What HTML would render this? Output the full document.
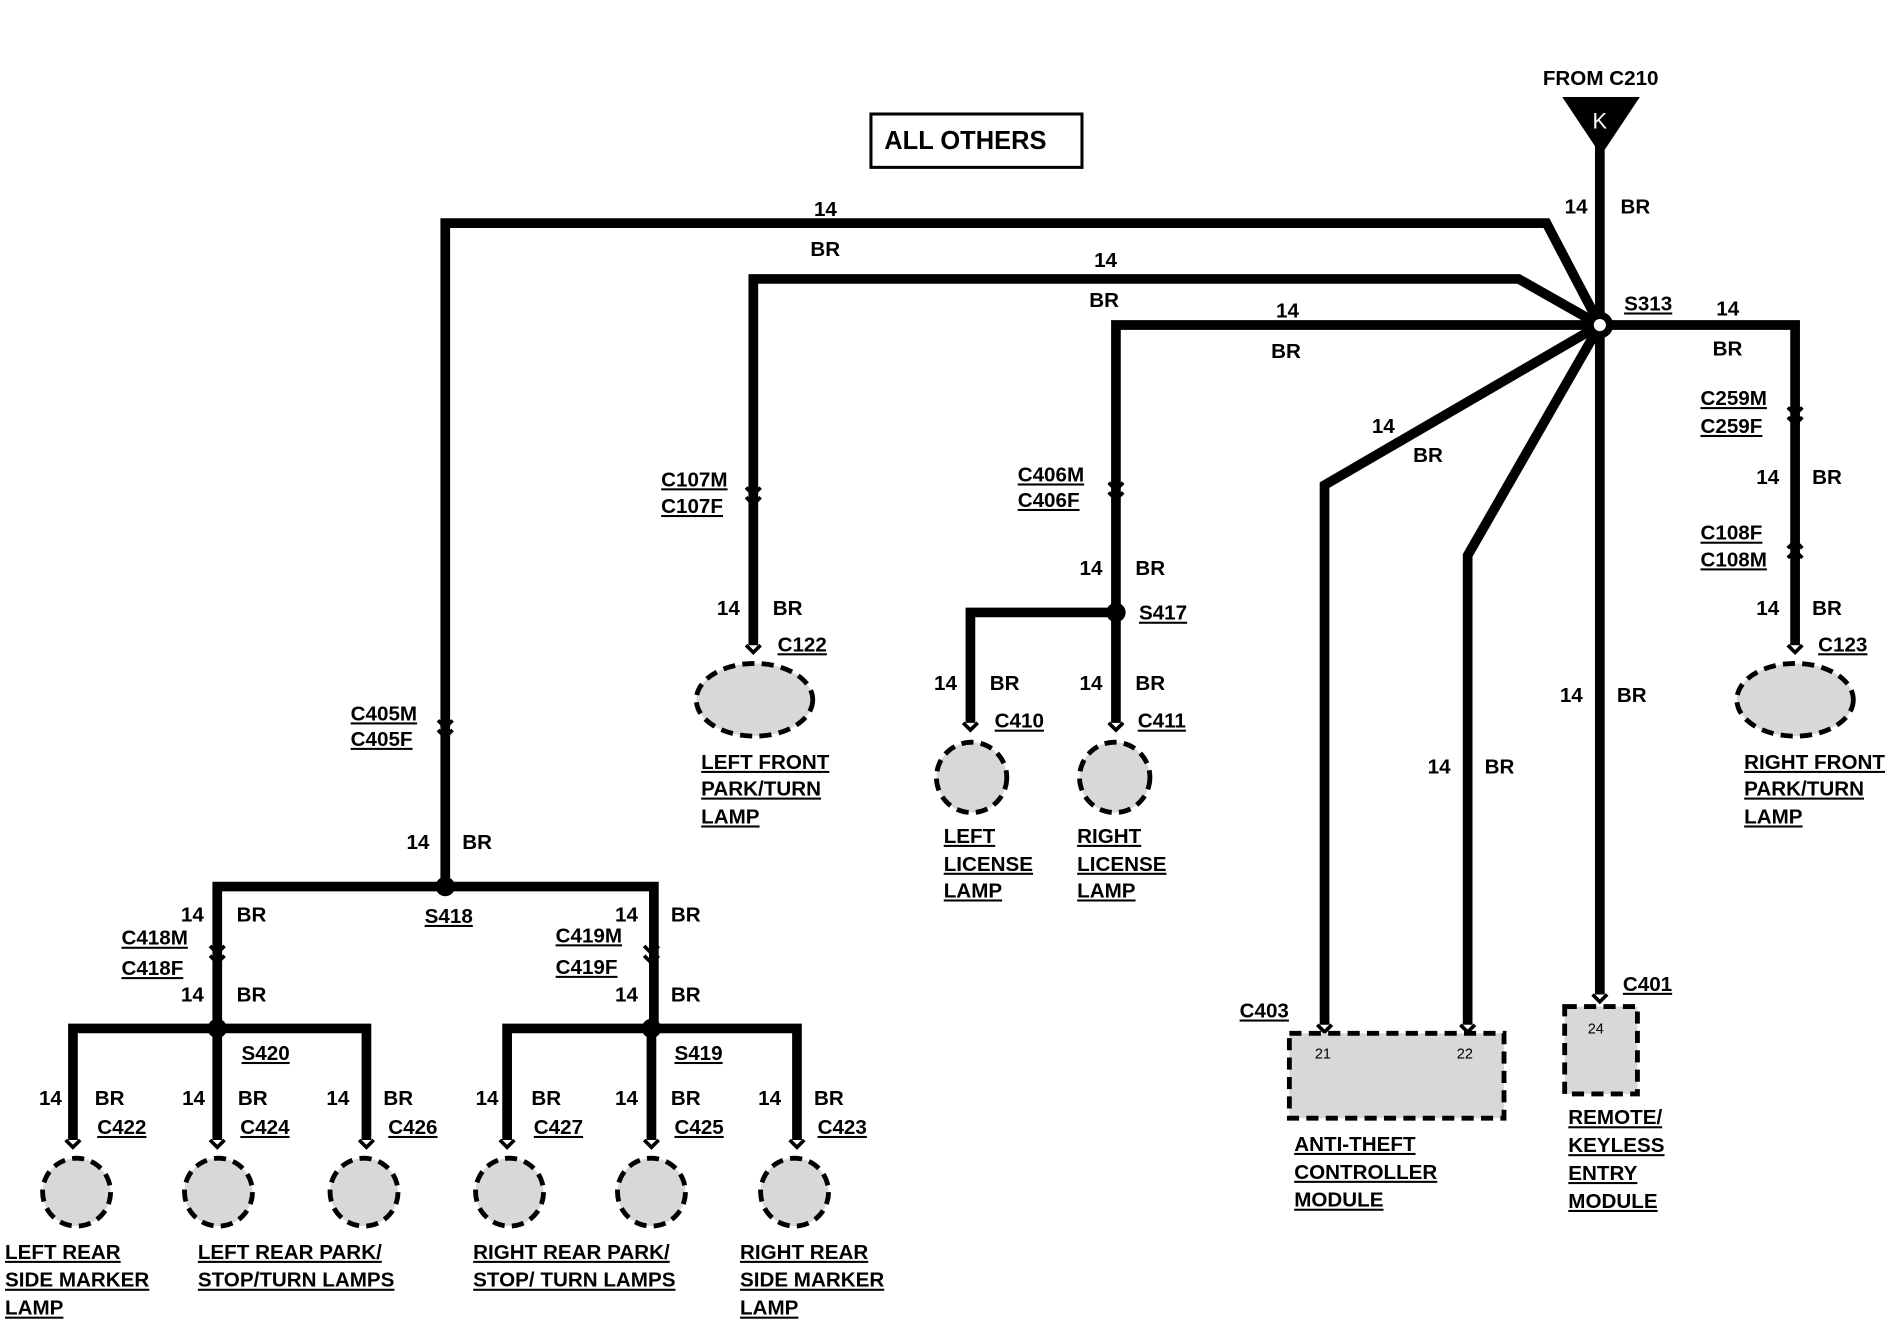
<!DOCTYPE html>
<html><head><meta charset="utf-8"><style>
html,body{margin:0;padding:0;background:#fff;}
svg{display:block}
text{font-family:"Liberation Sans",sans-serif;font-weight:bold;font-size:17px;fill:#000}
.u{text-decoration:underline}
.s{font-size:12px;font-weight:normal}
</style></head><body>
<svg width="1902" height="1328" viewBox="0 0 1568 1095" xmlns="http://www.w3.org/2000/svg">
<g fill="none" stroke="#000" stroke-width="8" stroke-linejoin="miter">
<path d="M1319 120 V820"/>
<path d="M1319 268 L1275 184 H367 V731"/>
<path d="M1319 268 L1252 230 H621 V532"/>
<path d="M1319 268 H920 V505"/>
<path d="M920 505 H800 V596"/>
<path d="M920 505 V596"/>
<path d="M1319 268 H1480 V532"/>
<path d="M1319 268 L1092 400 V845"/>
<path d="M1319 268 L1210 458 V845"/>
<path d="M179 848 V731 H539 V848"/>
<path d="M60 940 V848 H302 V940"/>
<path d="M179 848 V940"/>
<path d="M418 940 V848 H657 V940"/>
<path d="M537 848 V940"/>
</g>
<!-- connector chevrons -->
<g fill="none" stroke="#000" stroke-width="3">
<path d="M361 594 l6 6 l6 -6 M361 602 l6 6 l6 -6"/>
<path d="M615 402 l6 6 l6 -6 M615 410 l6 6 l6 -6"/>
<path d="M914 398 l6 6 l6 -6 M914 406 l6 6 l6 -6"/>
<path d="M1474 336 l6 6 l6 -6 M1474 344 l6 6 l6 -6"/>
<path d="M1474 452 l6 -6 l6 6 M1474 460 l6 -6 l6 6"/>
<path d="M173 780 l6 6 l6 -6 M173 788 l6 6 l6 -6"/>
<path d="M531 780 l6 6 l6 -6 M531 788 l6 6 l6 -6"/>
<path d="M615 532 l6 6 l6 -6"/><path d="M1474 532 l6 6 l6 -6"/>
<path d="M794 596 l6 6 l6 -6"/><path d="M914 596 l6 6 l6 -6"/>
<path d="M54 940 l6 6 l6 -6"/><path d="M173 940 l6 6 l6 -6"/><path d="M296 940 l6 6 l6 -6"/>
<path d="M412 940 l6 6 l6 -6"/><path d="M531 940 l6 6 l6 -6"/><path d="M651 940 l6 6 l6 -6"/>
<path d="M1086 845 l6 6 l6 -6"/><path d="M1204 845 l6 6 l6 -6"/><path d="M1313 820 l6 6 l6 -6"/>
</g>
<!-- splices -->
<g fill="#000">
<circle cx="1319" cy="268" r="11"/><circle cx="367" cy="731" r="8"/><circle cx="920" cy="505" r="8"/>
<circle cx="179" cy="848" r="8"/><circle cx="537" cy="848" r="8"/>
<path d="M1288 80 H1352 L1320 128 Z"/>
</g>
<circle cx="1319" cy="268" r="5" fill="#fff"/>
<text x="1313" y="106" style="fill:#fff;font-size:18px;font-weight:normal">K</text>
<!-- lamps -->
<g fill="#d8d8d8" stroke="#000" stroke-width="4" stroke-dasharray="10 6">
<ellipse cx="622" cy="577" rx="48" ry="30"/><ellipse cx="1480" cy="577" rx="48" ry="30"/>
<circle cx="801" cy="641" r="29"/><circle cx="919" cy="641" r="29"/>
<circle cx="63" cy="983" r="28"/><circle cx="180" cy="983" r="28"/><circle cx="300" cy="983" r="28"/>
<circle cx="420" cy="983" r="28"/><circle cx="537" cy="983" r="28"/><circle cx="655" cy="983" r="28"/>
<rect x="1063" y="852" width="177" height="70"/><rect x="1290" y="830" width="60" height="72"/>
</g>
<rect x="718" y="94" width="174" height="44" fill="none" stroke="#000" stroke-width="2.5"/>
<text x="729" y="123" style="font-size:21px">ALL OTHERS</text>
<text x="1272" y="70">FROM C210</text>
<text x="1290" y="176">14</text><text x="1336" y="176">BR</text>
<text x="1339" y="256" class="u">S313</text>
<text x="671" y="178">14</text><text x="668" y="211">BR</text>
<text x="902" y="220">14</text><text x="898" y="253">BR</text>
<text x="1052" y="262">14</text><text x="1048" y="295">BR</text>
<text x="1415" y="260">14</text><text x="1412" y="293">BR</text>
<text x="1131" y="357">14</text><text x="1165" y="381">BR</text>
<text x="1402" y="334" class="u">C259M</text><text x="1402" y="357" class="u">C259F</text>
<text x="1448" y="399">14</text><text x="1494" y="399">BR</text>
<text x="1402" y="445" class="u">C108F</text><text x="1402" y="467" class="u">C108M</text>
<text x="1448" y="507">14</text><text x="1494" y="507">BR</text>
<text x="1499" y="537" class="u">C123</text>
<text x="1438" y="634" class="u">RIGHT FRONT</text><text x="1438" y="656" class="u">PARK/TURN</text><text x="1438" y="679" class="u">LAMP</text>
<text x="1286" y="579">14</text><text x="1333" y="579">BR</text>
<text x="1177" y="638">14</text><text x="1224" y="638">BR</text>
<text x="545" y="401" class="u">C107M</text><text x="545" y="423" class="u">C107F</text>
<text x="591" y="507">14</text><text x="637" y="507">BR</text>
<text x="641" y="537" class="u">C122</text>
<text x="578" y="634" class="u">LEFT FRONT</text><text x="578" y="656" class="u">PARK/TURN</text><text x="578" y="679" class="u">LAMP</text>
<text x="839" y="397" class="u">C406M</text><text x="839" y="418" class="u">C406F</text>
<text x="890" y="474">14</text><text x="936" y="474">BR</text>
<text x="939" y="511" class="u">S417</text>
<text x="770" y="569">14</text><text x="816" y="569">BR</text>
<text x="890" y="569">14</text><text x="936" y="569">BR</text>
<text x="820" y="600" class="u">C410</text><text x="938" y="600" class="u">C411</text>
<text x="778" y="695" class="u">LEFT</text><text x="778" y="718" class="u">LICENSE</text><text x="778" y="740" class="u">LAMP</text>
<text x="888" y="695" class="u">RIGHT</text><text x="888" y="718" class="u">LICENSE</text><text x="888" y="740" class="u">LAMP</text>
<text x="289" y="594" class="u">C405M</text><text x="289" y="615" class="u">C405F</text>
<text x="335" y="700">14</text><text x="381" y="700">BR</text>
<text x="350" y="761" class="u">S418</text>
<text x="149" y="760">14</text><text x="195" y="760">BR</text>
<text x="507" y="760">14</text><text x="553" y="760">BR</text>
<text x="100" y="779" class="u">C418M</text><text x="100" y="804" class="u">C418F</text>
<text x="458" y="777" class="u">C419M</text><text x="458" y="803" class="u">C419F</text>
<text x="149" y="826">14</text><text x="195" y="826">BR</text>
<text x="507" y="826">14</text><text x="553" y="826">BR</text>
<text x="199" y="874" class="u">S420</text><text x="556" y="874" class="u">S419</text>
<text x="32" y="911">14</text><text x="78" y="911">BR</text>
<text x="150" y="911">14</text><text x="196" y="911">BR</text>
<text x="269" y="911">14</text><text x="316" y="911">BR</text>
<text x="392" y="911">14</text><text x="438" y="911">BR</text>
<text x="507" y="911">14</text><text x="553" y="911">BR</text>
<text x="625" y="911">14</text><text x="671" y="911">BR</text>
<text x="80" y="935" class="u">C422</text><text x="198" y="935" class="u">C424</text><text x="320" y="935" class="u">C426</text>
<text x="440" y="935" class="u">C427</text><text x="556" y="935" class="u">C425</text><text x="674" y="935" class="u">C423</text>
<text x="4" y="1038" class="u">LEFT REAR</text><text x="4" y="1061" class="u">SIDE MARKER</text><text x="4" y="1084" class="u">LAMP</text>
<text x="163" y="1038" class="u">LEFT REAR PARK/</text><text x="163" y="1061" class="u">STOP/TURN LAMPS</text>
<text x="390" y="1038" class="u">RIGHT REAR PARK/</text><text x="390" y="1061" class="u">STOP/ TURN LAMPS</text>
<text x="610" y="1038" class="u">RIGHT REAR</text><text x="610" y="1061" class="u">SIDE MARKER</text><text x="610" y="1084" class="u">LAMP</text>
<text x="1022" y="839" class="u">C403</text><text x="1338" y="817" class="u">C401</text>
<text x="1084" y="873" class="s">21</text><text x="1201" y="873" class="s">22</text><text x="1309" y="852" class="s">24</text>
<text x="1067" y="949" class="u">ANTI-THEFT</text><text x="1067" y="972" class="u">CONTROLLER</text><text x="1067" y="995" class="u">MODULE</text>
<text x="1293" y="927" class="u">REMOTE/</text><text x="1293" y="950" class="u">KEYLESS</text><text x="1293" y="973" class="u">ENTRY</text><text x="1293" y="996" class="u">MODULE</text>
</svg>
</body></html>
